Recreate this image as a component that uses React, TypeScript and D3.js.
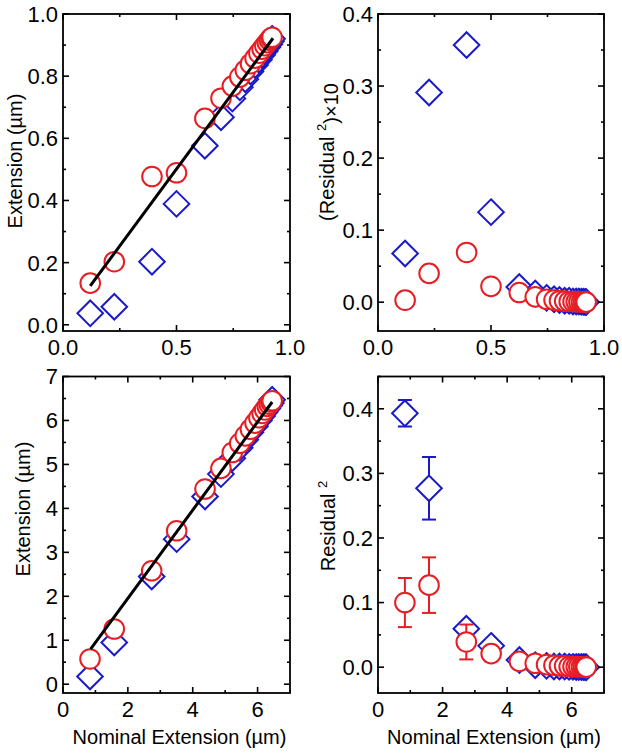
import React from 'react';
import * as d3 from 'd3';

// ---------- data ----------
// Top row: nominal extension (µm), scaled set
const topNominal = [0.12, 0.226, 0.392, 0.5, 0.625, 0.696, 0.746, 0.779, 0.803, 0.826, 0.846, 0.863, 0.877, 0.889, 0.9, 0.909, 0.916, 0.921];
const topCircleExt = [0.134, 0.203, 0.477, 0.489, 0.664, 0.729, 0.768, 0.797, 0.819, 0.84, 0.858, 0.874, 0.887, 0.898, 0.908, 0.916, 0.922, 0.925];
const topDiamondExt = [0.037, 0.058, 0.203, 0.389, 0.576, 0.668, 0.728, 0.764, 0.79, 0.815, 0.836, 0.853, 0.868, 0.881, 0.893, 0.903, 0.912, 0.92];
const topFitX = [0.12, 0.925];
const topFitY = [0.125, 0.922];
const topResDiamond = [0.0676, 0.291, 0.357, 0.125, 0.021, 0.012, 0.006, 0.004, 0.003, 0.002, 0.002, 0.001, 0.001, 0.001, 0.0005, 0.0005, 0.0003, 0.0002];
const topResCircle = [0.0028, 0.04, 0.069, 0.022, 0.0134, 0.0074, 0.004, 0.003, 0.002, 0.0015, 0.001, 0.001, 0.0008, 0.0006, 0.0004, 0.0003, 0.0002, 0.0001];

// Bottom row: nominal extension (µm)
const botNominal = [0.833, 1.58, 2.735, 3.505, 4.38, 4.87, 5.22, 5.45, 5.62, 5.78, 5.92, 6.04, 6.14, 6.22, 6.3, 6.36, 6.41, 6.45];
const botCircleExt = [0.575, 1.256, 2.58, 3.49, 4.44, 4.91, 5.27, 5.48, 5.65, 5.8, 5.94, 6.06, 6.16, 6.24, 6.32, 6.37, 6.42, 6.45];
const botDiamondExt = [0.175, 0.95, 2.45, 3.3, 4.27, 4.78, 5.14, 5.38, 5.56, 5.73, 5.87, 6.0, 6.1, 6.19, 6.27, 6.34, 6.4, 6.47];
const botFitX = [0.85, 6.45];
const botFitY = [0.8, 6.42];
const botResDiamond = [0.393, 0.277, 0.0595, 0.033, 0.011, 0.003, 0.002, 0.001, 0.001, 0.001, 0.0005, 0.0005, 0.0003, 0.0002, 0.0002, 0.0001, 0.0001, 0.0];
const botResDiamondErr = [0.0205, 0.0485, 0, 0, 0, 0, 0, 0, 0, 0, 0, 0, 0, 0, 0, 0, 0, 0];
const botResCircle = [0.1, 0.127, 0.039, 0.021, 0.009, 0.006, 0.004, 0.003, 0.002, 0.002, 0.001, 0.001, 0.0008, 0.0006, 0.0004, 0.0003, 0.0002, 0.0001];
const botResCircleErr = [0.038, 0.043, 0.027, 0, 0, 0, 0, 0, 0, 0, 0, 0, 0, 0, 0, 0, 0, 0];

// tick values
const topExtTicks = [0, 0.2, 0.4, 0.6, 0.8, 1.0];
const topXTicks = [0, 0.5, 1.0];
const topResTicks = [0, 0.1, 0.2, 0.3, 0.4];
const botExtTicks = [0, 1, 2, 3, 4, 5, 6, 7];
const botXTicks = [0, 2, 4, 6];
const botResTicks = [0, 0.1, 0.2, 0.3, 0.4];

// ---------- styles ----------
const RED = '#e61e24';
const BLUE = '#1a1ac8';
const FONT = 'Liberation Sans, Arial, Helvetica, sans-serif';

type Series = { x: number[]; y: number[]; err?: number[]; kind: 'circle' | 'diamond' };

type PanelSpec = {
  left: number; right: number; top: number; bottom: number;
  xDomain: [number, number]; yDomain: [number, number];
  xTicks: number[]; xMinorStep: number; xFmt: (v: number) => string;
  yTicks: number[]; yMinorStep: number; yFmt: (v: number) => string;
  series: Series[];
  fit?: { x: number[]; y: number[] };
  yLabel: React.ReactNode; yLabelPos: [number, number];
  xLabel?: string; xLabelY?: number;
  xTickBaseline: number;
};

function minors(domain: [number, number], step: number, majors: number[]) {
  const out: number[] = [];
  const start = Math.ceil(domain[0] / step - 1e-9);
  const end = Math.floor(domain[1] / step + 1e-9);
  for (let i = start; i <= end; i++) {
    const v = i * step;
    if (!majors.some((m) => Math.abs(m - v) < 1e-9)) out.push(v);
  }
  return out;
}

function Panel({ p }: { p: PanelSpec }) {
  const xs = d3.scaleLinear().domain(p.xDomain).range([p.left, p.right]);
  const ys = d3.scaleLinear().domain(p.yDomain).range([p.bottom, p.top]);
  const MAJ = 6, MIN = 3;
  const xMaj = p.xTicks.filter((v) => v >= p.xDomain[0] - 1e-9 && v <= p.xDomain[1] + 1e-9);
  const yMaj = p.yTicks.filter((v) => v >= p.yDomain[0] - 1e-9 && v <= p.yDomain[1] + 1e-9);
  const xMin = minors(p.xDomain, p.xMinorStep, xMaj);
  const yMin = minors(p.yDomain, p.yMinorStep, yMaj);
  const tickLines: React.ReactNode[] = [];
  const sw = 1.6;
  xMaj.forEach((v, i) => {
    const x = xs(v);
    tickLines.push(<line key={'xb' + i} x1={x} x2={x} y1={p.bottom} y2={p.bottom - MAJ} stroke="#000" strokeWidth={sw} />);
    tickLines.push(<line key={'xt' + i} x1={x} x2={x} y1={p.top} y2={p.top + MAJ} stroke="#000" strokeWidth={sw} />);
  });
  xMin.forEach((v, i) => {
    const x = xs(v);
    tickLines.push(<line key={'xbm' + i} x1={x} x2={x} y1={p.bottom} y2={p.bottom - MIN} stroke="#000" strokeWidth={sw} />);
    tickLines.push(<line key={'xtm' + i} x1={x} x2={x} y1={p.top} y2={p.top + MIN} stroke="#000" strokeWidth={sw} />);
  });
  yMaj.forEach((v, i) => {
    const y = ys(v);
    tickLines.push(<line key={'yl' + i} x1={p.left} x2={p.left + MAJ} y1={y} y2={y} stroke="#000" strokeWidth={sw} />);
    tickLines.push(<line key={'yr' + i} x1={p.right} x2={p.right - MAJ} y1={y} y2={y} stroke="#000" strokeWidth={sw} />);
  });
  yMin.forEach((v, i) => {
    const y = ys(v);
    tickLines.push(<line key={'ylm' + i} x1={p.left} x2={p.left + MIN} y1={y} y2={y} stroke="#000" strokeWidth={sw} />);
    tickLines.push(<line key={'yrm' + i} x1={p.right} x2={p.right - MIN} y1={y} y2={y} stroke="#000" strokeWidth={sw} />);
  });

  const R = 9.8;
  const D = 12.8;
  const fitLine = p.fit
    ? d3.line<number>().x((_, i) => xs(p.fit!.x[i])).y((d) => ys(d))(p.fit.y)
    : null;

  const drawSeries = (s: Series, si: number) => {
    const color = s.kind === 'circle' ? RED : BLUE;
    return (
      <g key={'s' + si}>
        {s.err &&
          s.x.map((xv, i) => {
            const e = s.err![i];
            if (!e) return null;
            const cx = xs(xv);
            const y1 = ys(s.y[i] - e);
            const y2 = ys(s.y[i] + e);
            return (
              <g key={'e' + i} stroke={color} strokeWidth={2}>
                <line x1={cx} x2={cx} y1={y1} y2={y2} />
                <line x1={cx - 7} x2={cx + 7} y1={y1} y2={y1} />
                <line x1={cx - 7} x2={cx + 7} y1={y2} y2={y2} />
              </g>
            );
          })}
        {s.x.map((xv, i) => {
          const cx = xs(xv);
          const cy = ys(s.y[i]);
          if (s.kind === 'circle')
            return <circle key={i} cx={cx} cy={cy} r={R} fill="#fff" stroke={color} strokeWidth={2} />;
          return (
            <path
              key={i}
              d={`M${cx},${cy - D}L${cx + D},${cy}L${cx},${cy + D}L${cx - D},${cy}Z`}
              fill="#fff"
              stroke={color}
              strokeWidth={2}
            />
          );
        })}
      </g>
    );
  };

  return (
    <g>
      <defs>
        <clipPath id={`clip-${p.left}-${p.top}`}>
          <rect x={p.left} y={p.top} width={p.right - p.left} height={p.bottom - p.top} />
        </clipPath>
      </defs>
      <g clipPath={`url(#clip-${p.left}-${p.top})`}>
        {p.series.filter((s) => s.kind === 'diamond').map(drawSeries)}
        {p.series.filter((s) => s.kind === 'circle').map(drawSeries)}
        {fitLine && <path d={fitLine} stroke="#000" strokeWidth={3} fill="none" />}
      </g>
      {tickLines}
      <rect x={p.left} y={p.top} width={p.right - p.left} height={p.bottom - p.top} fill="none" stroke="#000" strokeWidth={1.8} />
      {yMaj.map((v, i) => (
        <text key={'yt' + i} x={p.left - 5} y={ys(v)} dy="0.36em" textAnchor="end" fontSize={22} fontFamily={FONT}>
          {p.yFmt(v)}
        </text>
      ))}
      {xMaj.map((v, i) => (
        <text key={'xtl' + i} x={xs(v)} y={p.xTickBaseline} textAnchor="middle" fontSize={22} fontFamily={FONT}>
          {p.xFmt(v)}
        </text>
      ))}
      <text
        transform={`translate(${p.yLabelPos[0]},${p.yLabelPos[1]}) rotate(-90)`}
        textAnchor="middle"
        dy="0.35em"
        fontSize={20}
        fontFamily={FONT}
      >
        {p.yLabel}
      </text>
      {p.xLabel && (
        <text x={(p.left + p.right) / 2 + 3} y={p.xLabelY} textAnchor="middle" fontSize={20} fontFamily={FONT}>
          {p.xLabel}
        </text>
      )}
    </g>
  );
}

export default function App() {
  const f1 = d3.format('.1f');
  const f0 = d3.format('d');
  const L = [63, 290];
  const Rt = [378, 604];
  const T = [14, 331];
  const B = [376.5, 693];

  const panels: PanelSpec[] = [
    {
      left: L[0], right: L[1], top: T[0], bottom: T[1],
      xDomain: [0, 1], yDomain: [-0.02, 1.0],
      xTicks: topXTicks, xMinorStep: 0.25, xFmt: f1,
      yTicks: topExtTicks, yMinorStep: 0.1, yFmt: f1,
      series: [
        { x: topNominal, y: topDiamondExt, kind: 'diamond' },
        { x: topNominal, y: topCircleExt, kind: 'circle' },
      ],
      fit: { x: topFitX, y: topFitY },
      yLabel: 'Extension (\u00b5m)', yLabelPos: [15, 161],
      xTickBaseline: 355,
    },
    {
      left: Rt[0], right: Rt[1], top: T[0], bottom: T[1],
      xDomain: [0, 1], yDomain: [-0.04, 0.4],
      xTicks: topXTicks, xMinorStep: 0.25, xFmt: f1,
      yTicks: topResTicks, yMinorStep: 0.05, yFmt: f1,
      series: [
        { x: topNominal, y: topResDiamond, kind: 'diamond' },
        { x: topNominal, y: topResCircle, kind: 'circle' },
      ],
      yLabel: (
        <>
          {'(Residual '}
          <tspan fontSize={13} dy="-0.6em">2</tspan>
          <tspan dy="0.6em" fontSize={20}>{')\u00d710'}</tspan>
        </>
      ),
      yLabelPos: [327, 152],
      xTickBaseline: 355,
    },
    {
      left: L[0], right: L[1], top: B[0], bottom: B[1],
      xDomain: [0, 7], yDomain: [-0.2, 7],
      xTicks: botXTicks, xMinorStep: 1, xFmt: f0,
      yTicks: botExtTicks, yMinorStep: 0.5, yFmt: f0,
      series: [
        { x: botNominal, y: botDiamondExt, kind: 'diamond' },
        { x: botNominal, y: botCircleExt, kind: 'circle' },
      ],
      fit: { x: botFitX, y: botFitY },
      yLabel: 'Extension (\u00b5m)', yLabelPos: [23, 509],
      xLabel: 'Nominal Extension (\u00b5m)', xLabelY: 744,
      xTickBaseline: 717,
    },
    {
      left: Rt[0], right: Rt[1], top: B[0], bottom: B[1],
      xDomain: [0, 7], yDomain: [-0.04, 0.45],
      xTicks: botXTicks, xMinorStep: 1, xFmt: f0,
      yTicks: botResTicks, yMinorStep: 0.05, yFmt: f1,
      series: [
        { x: botNominal, y: botResDiamond, err: botResDiamondErr, kind: 'diamond' },
        { x: botNominal, y: botResCircle, err: botResCircleErr, kind: 'circle' },
      ],
      yLabel: (
        <>
          {'Residual '}
          <tspan fontSize={13} dy="-0.6em">2</tspan>
        </>
      ),
      yLabelPos: [328, 526],
      xLabel: 'Nominal Extension (\u00b5m)', xLabelY: 744,
      xTickBaseline: 717,
    },
  ];

  return (
    <svg
      width={622}
      height={755}
      style={{ position: 'absolute', left: 0, top: 0, background: '#fff' }}
    >
      <rect width={622} height={755} fill="#fff" />
      {panels.map((p, i) => (
        <Panel key={i} p={p} />
      ))}
    </svg>
  );
}
